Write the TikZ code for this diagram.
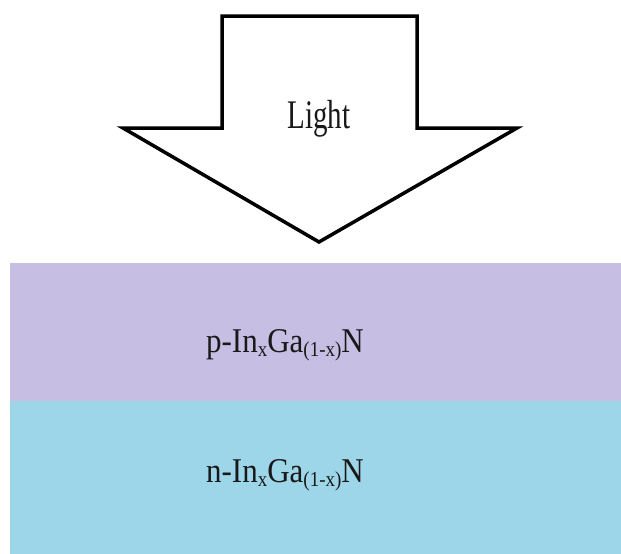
\documentclass[tikz,border=0pt]{standalone}
\usepackage{fontspec}
\setmainfont{Liberation Serif}
\definecolor{player}{RGB}{199,190,228}
\definecolor{nlayer}{RGB}{157,214,232}
\newcommand{\subx}[1]{\raisebox{-4pt}{\fontsize{19}{19}\selectfont #1}}
\tikzset{
  layer/.style={draw=none, minimum width=611pt, inner sep=0pt, anchor=north west},
  lbl/.style={inner sep=0pt, anchor=base, text=black!90},
  arrowshape/.style={draw=black, line width=3.5pt, fill=white, line join=miter}
}
\begin{document}
\begin{tikzpicture}[x=1pt,y=-1pt]
\useasboundingbox (0,0) rectangle (621,554);
% layers
\node[layer, fill=player, minimum height=137.5pt] (p) at (10,263) {};
\node[layer, fill=nlayer, minimum height=153.5pt] (n) at (10,400.5) {};
% arrow
\draw[arrowshape] (222,16) -- (417,16) -- (417,128) -- (517,128) -- (319,242)
  -- (123,128) -- (222,128) -- cycle;
% labels
\node[lbl] (light) at (319,128) {\scalebox{1}[1.4]{\fontsize{29}{30}\selectfont Light}};
\node[lbl] (ptext) at (285,352) {\scalebox{1}[1.12]{\fontsize{31}{32}\selectfont p-In\subx{x}Ga\subx{(1-x)}N}};
\node[lbl] (ntext) at (285,482) {\scalebox{1}[1.12]{\fontsize{31}{32}\selectfont n-In\subx{x}Ga\subx{(1-x)}N}};
\end{tikzpicture}
\end{document}
